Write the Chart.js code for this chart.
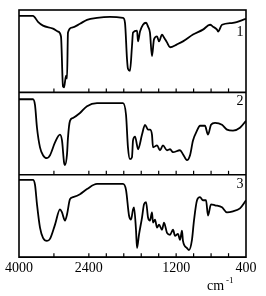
<!DOCTYPE html>
<html>
<head>
<meta charset="utf-8">
<script src="https://cdn.jsdelivr.net/npm/chart.js@4.4.1/dist/chart.umd.min.js"></script>
<style>
  html, body { margin: 0; padding: 0; background: #fff; }
  #wrap { position: relative; width: 266px; height: 296px; }
</style>
</head>
<body>
<div id="wrap"><canvas id="c" width="266" height="296"></canvas></div>
<script>
// ---- data (wavenumber in cm-1, transmittance in % of panel height) ----
const wn1 = [4000,3680,3565,3450,3221,3107,3038,2992,2969,2923,2900,2878,2786,2603,2442,2213,1958,1809,1786,1763,1752,1729,1706,1694,1648,1637,1614,1580,1545,1522,1500,1477,1454,1419,1396,1362,1339,1305,1270,1190,1122,1007,893,812,778,732,720,675,549,400];
const t1  = [92.9,92.9,85.7,81,77.4,73.8,67.9,7.1,6,20.2,16.7,72.6,78.6,83.3,88.1,90.5,91.7,90.5,84.5,40.5,28.6,26.2,56,72.6,75,61.9,73.8,82.1,84.5,79.8,72.6,44,64.3,67.9,61.9,70.2,66.7,60.7,54.8,58.3,61.9,70.2,76.2,82.1,79.8,76.2,73.8,82.1,84.5,89.3];

const wn2 = [4000,3680,3633,3588,3519,3450,3359,3290,3175,3061,3015,2969,2946,2900,2878,2832,2763,2603,2442,2213,1809,1774,1752,1729,1706,1694,1671,1648,1637,1591,1557,1522,1500,1477,1465,1419,1385,1351,1305,1270,1236,1156,1122,1076,1041,1007,961,927,870,835,801,755,675,618,549,469,400];
const t2  = [91.7,91.7,84.5,57.1,33.3,23.8,20.2,23.8,39.3,48.8,41.7,15.5,11.9,25,45.2,65.5,69,75,83.3,86.9,86.9,72.6,33.3,19,21.4,41.7,46.4,35.7,31,48.8,60.7,54.8,54.8,48.8,33.3,35.7,29.8,35.7,29.8,31,27.4,29.8,25,17.9,23.8,41.7,53.6,59.5,59.5,48.8,60.7,63.1,60.7,54.8,53.6,57.1,65.5];

const wn3 = [4000,3680,3633,3588,3519,3450,3359,3290,3175,3061,3015,2946,2900,2832,2763,2603,2442,2213,1809,1774,1740,1717,1694,1683,1660,1648,1626,1591,1568,1545,1522,1500,1477,1465,1442,1419,1396,1362,1339,1305,1270,1236,1213,1179,1156,1133,1122,1076,1053,1019,996,961,927,893,858,835,801,755,675,618,549,469,400];
const t3  = [93.8,93.8,87.7,64.2,35.8,23.5,19.8,22.2,39.5,58,54.3,44.4,51.9,70.4,72.8,76.5,82.7,88.9,88.9,81.5,50.6,45.7,58,60.5,33.3,11.1,27.2,48.1,64.2,66.7,48.1,44.4,54.3,42,45.7,35.8,39.5,33.3,42,29.6,27.2,33.3,25.9,28.4,21,32.1,19.8,11.1,8.6,21,44.4,69.1,72.8,69.1,69.1,50.6,64.2,63,60.5,54.3,55.6,59.3,69.1];

const xTickLabels = [4000, 2400, 1200, 400];
const minorTicks = [3200, 2400, 2000, 1800, 1600, 1400, 1200, 1000, 800, 600];
const panelNames = ['1', '2', '3'];
const unitLabel = 'cm';
const unitExp = '-1';

// ---- axis with scale change at 2000 cm-1 (upper region at half scale) ----
const BREAK = 2000;
function toU(w) { return w > BREAK ? BREAK + (w - BREAK) / 2 : w; }
function fromU(u) { return u > BREAK ? BREAK + 2 * (u - BREAK) : u; }

function series(wn, t, offset) {
  return wn.map((w, i) => ({ x: toU(w), y: t[i] + offset }));
}

const lineStyle = {
  borderColor: '#000',
  borderWidth: 1.8,
  pointRadius: 0,
  fill: false,
  cubicInterpolationMode: 'monotone'
};

const framePlugin = {
  id: 'frame',
  afterDraw(chart) {
    const ctx = chart.ctx;
    const a = chart.chartArea;
    const xs = chart.scales.x, ys = chart.scales.y;
    ctx.save();
    ctx.strokeStyle = '#000';
    ctx.lineWidth = 1.6;
    ctx.strokeRect(a.left, a.top, a.right - a.left, a.bottom - a.top);
    const bases = [200, 100, 0];
    bases.forEach(b => {
      const py = ys.getPixelForValue(b);
      ctx.lineWidth = 1.6;
      ctx.beginPath();
      ctx.moveTo(a.left, py); ctx.lineTo(a.right, py);
      ctx.stroke();
      ctx.lineWidth = 1.2;
      minorTicks.forEach(t => {
        const px = xs.getPixelForValue(toU(t));
        ctx.beginPath();
        ctx.moveTo(px, py); ctx.lineTo(px, py - 4);
        ctx.stroke();
      });
    });
    // panel numbers
    ctx.fillStyle = '#000';
    ctx.font = '14px "Liberation Serif", "DejaVu Serif", serif';
    ctx.textAlign = 'center';
    ctx.textBaseline = 'middle';
    const labelVals = [273, 189, 89];
    panelNames.forEach((n, i) => {
      ctx.fillText(n, a.right - 6, ys.getPixelForValue(labelVals[i]));
    });
    // unit
    ctx.textAlign = 'left';
    ctx.textBaseline = 'alphabetic';
    ctx.font = '14px "Liberation Serif", "DejaVu Serif", serif';
    ctx.fillText(unitLabel, 207, 290);
    const w = ctx.measureText(unitLabel).width;
    ctx.font = '9px "Liberation Serif", "DejaVu Serif", serif';
    ctx.fillText(unitExp, 207 + w + 2, 283);
    ctx.restore();
  }
};

new Chart(document.getElementById('c'), {
  type: 'line',
  data: {
    datasets: [
      Object.assign({ label: '1', data: series(wn1, t1, 200) }, lineStyle),
      Object.assign({ label: '2', data: series(wn2, t2, 100) }, lineStyle),
      Object.assign({ label: '3', data: series(wn3, t3, 0) }, lineStyle)
    ]
  },
  options: {
    responsive: false,
    animation: false,
    events: [],
    layout: { padding: { left: 19, right: 20, top: 10, bottom: 16 } },
    plugins: { legend: { display: false }, tooltip: { enabled: false } },
    scales: {
      x: {
        type: 'linear',
        reverse: true,
        min: toU(400),
        max: toU(4000),
        border: { display: false },
        grid: { display: false, drawTicks: false },
        afterBuildTicks(scale) {
          scale.ticks = xTickLabels.map(w => ({ value: toU(w) }));
        },
        ticks: {
          autoSkip: false,
          maxRotation: 0,
          padding: 3,
          color: '#000',
          font: { family: '"Liberation Serif", "DejaVu Serif", serif', size: 14 },
          callback(v) { return String(Math.round(fromU(v))); }
        }
      },
      y: {
        display: false,
        min: 0,
        max: 300
      }
    }
  },
  plugins: [framePlugin]
});
</script>
</body>
</html>
